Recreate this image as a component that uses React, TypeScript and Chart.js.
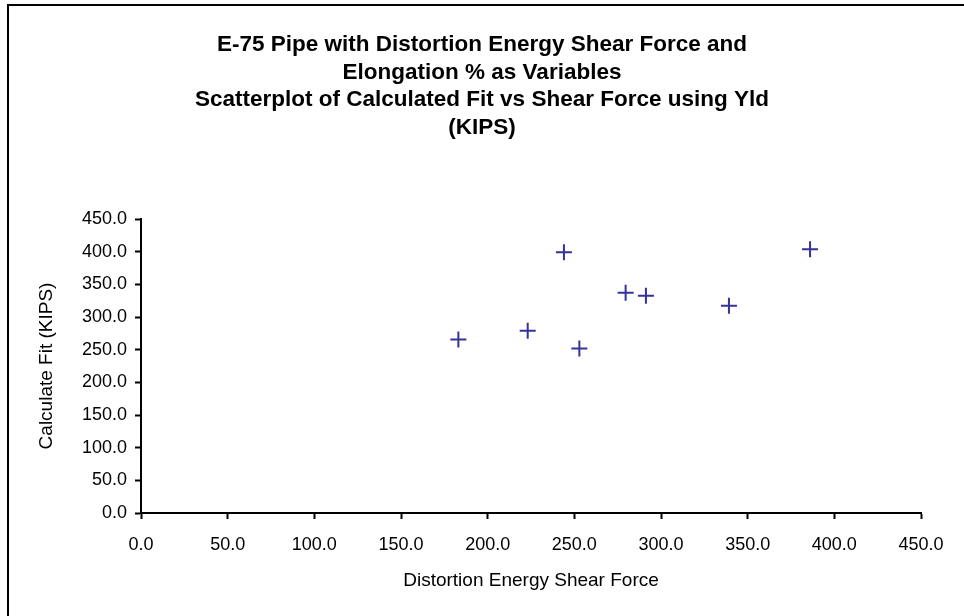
import React, { useEffect, useRef } from "react";
import { Chart, registerables } from "chart.js";

Chart.register(...registerables);

const titleLines = [
  "E-75 Pipe with Distortion Energy Shear Force and",
  "Elongation % as Variables",
  "Scatterplot of Calculated Fit vs Shear Force using Yld",
  "(KIPS)",
];
const xAxisTitle = "Distortion Energy Shear Force";
const yAxisTitle = "Calculate Fit (KIPS)";
const shearForce = [183.1, 223.1, 244.0, 252.9, 279.6, 291.3, 339.2, 386.0];
const calculatedFit = [265.7, 278.8, 399.0, 251.9, 337.1, 332.5, 317.1, 403.6];
const axisMin = 0;
const axisMax = 450;
const axisStep = 50;

const FONT = "'Liberation Sans', Arial, Helvetica, sans-serif";

export default function App() {
  const ref = useRef<HTMLCanvasElement | null>(null);

  useEffect(() => {
    if (!ref.current) return;
    const points = shearForce.map((x, i) => ({ x, y: calculatedFit[i] }));
    const fmt = (v: any) => Number(v).toFixed(1);
    const chart = new Chart(ref.current, {
      type: "scatter",
      data: {
        datasets: [
          {
            label: "Calculated Fit",
            data: points,
            pointStyle: "cross",
            pointRadius: 8,
            pointHoverRadius: 8,
            pointBorderWidth: 2,
            borderColor: "#333399",
            backgroundColor: "#333399",
          },
        ],
      },
      options: {
        responsive: false,
        animation: false,
        events: [],
        layout: { padding: { left: 43, right: 43, top: 0, bottom: 0 } },
        plugins: {
          legend: { display: false },
          tooltip: { enabled: false },
          title: {
            display: true,
            text: titleLines,
            color: "#000",
            font: { family: FONT, size: 22.5, weight: "bold", lineHeight: 1.22 },
            padding: { top: 31.5, bottom: 77.7 },
          },
        },
        scales: {
          x: {
            type: "linear",
            min: axisMin,
            max: axisMax,
            afterFit: (s: any) => {
              s.height = 103;
            },
            ticks: {
              stepSize: axisStep,
              callback: fmt,
              color: "#000",
              font: { family: FONT, size: 18 },
              padding: 15,
              maxRotation: 0,
            },
            grid: {
              display: true,
              drawOnChartArea: false,
              drawTicks: true,
              tickLength: 6,
              tickWidth: 2,
              tickColor: "#000",
            },
            border: { display: true, color: "#000", width: 2 },
            title: {
              display: true,
              text: xAxisTitle,
              color: "#000",
              font: { family: FONT, size: 19 },
              padding: { top: 0, bottom: 24 },
            },
          },
          y: {
            type: "linear",
            min: axisMin,
            max: axisMax,
            afterFit: (s: any) => {
              s.width = 98;
            },
            ticks: {
              stepSize: axisStep,
              callback: fmt,
              color: "#000",
              font: { family: FONT, size: 18 },
              padding: 8,
            },
            grid: {
              display: true,
              drawOnChartArea: false,
              drawTicks: true,
              tickLength: 6,
              tickWidth: 2,
              tickColor: "#000",
            },
            border: { display: true, color: "#000", width: 2 },
            title: {
              display: true,
              text: yAxisTitle,
              color: "#000",
              font: { family: FONT, size: 19 },
              padding: { top: -7.5, bottom: 0 },
            },
          },
        },
      },
    });
    return () => chart.destroy();
  }, []);

  return (
    <div
      style={{
        position: "fixed",
        left: 0,
        top: 0,
        width: 964,
        height: 616,
        overflow: "hidden",
        background: "#fff",
      }}
    >
      <canvas
        ref={ref}
        width={964}
        height={616}
        style={{ position: "absolute", left: 0, top: 0, width: 964, height: 616 }}
      />
      <div
        style={{
          position: "absolute",
          left: 7,
          top: 4,
          width: 1000,
          height: 700,
          borderTop: "2px solid #000",
          borderLeft: "2px solid #000",
          pointerEvents: "none",
        }}
      />
    </div>
  );
}
